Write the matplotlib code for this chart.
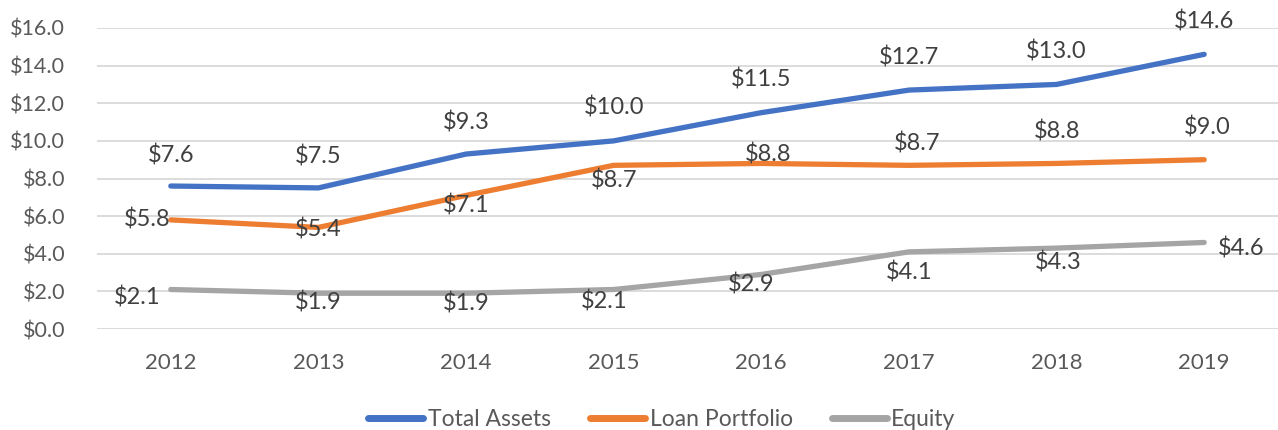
import matplotlib.pyplot as plt
import numpy as np

plt.rcParams['font.family'] = ['Lato', 'DejaVu Sans']

years = ['2012', '2013', '2014', '2015', '2016', '2017', '2018', '2019']
total_assets = [7.6, 7.5, 9.3, 10.0, 11.5, 12.7, 13.0, 14.6]
loan_portfolio = [5.8, 5.4, 7.1, 8.7, 8.8, 8.7, 8.8, 9.0]
equity = [2.1, 1.9, 1.9, 2.1, 2.9, 4.1, 4.3, 4.6]

# label offsets in pixels (dx, dy) and horizontal alignment, per point
ta_off = [(0, 31), (0, 31), (0, 32), (0, 33), (0, 33), (0, 33), (0, 33), (0, 33)]
lp_off = [(0, 0), (0, -2), (0, -10), (0, -15), (7, 9), (8, 22), (1, 32), (3, 32)]
lp_ha = ['right', 'center', 'center', 'center', 'center', 'center', 'center', 'center']
eq_off = [(-10, -8), (0, -9), (0, -10), (-10, -12), (-10, -10), (0, -21), (2, -14), (14, -6)]
eq_ha = ['right', 'center', 'center', 'center', 'center', 'center', 'center', 'left']

blue = '#4472C4'
orange = '#ED7D31'
gray = '#A5A5A5'
txt = '#404040'

fig = plt.figure(figsize=(12.78, 4.30), dpi=100)
ax = fig.add_axes([97 / 1278, 1 - 329 / 430, 1 - 97 / 1278, 301 / 430])

x = np.arange(len(years))
series = [
    ('Total Assets', total_assets, blue, ta_off, ['center'] * 8),
    ('Loan Portfolio', loan_portfolio, orange, lp_off, lp_ha),
    ('Equity', equity, gray, eq_off, eq_ha),
]
px = 72 / 100
for name, vals, col, offs, has in series:
    ax.plot(x, vals, color=col, lw=3.8, label=name, solid_capstyle='round',
            solid_joinstyle='round', zorder=3)
    for xi, v, (dx, dy), ha in zip(x, vals, offs, has):
        ax.annotate(f'${v:.1f}', (xi, v), xytext=(dx * px, dy * px),
                    textcoords='offset points', ha=ha, va='center',
                    fontsize=17, color=txt, zorder=4)

ax.set_xlim(-0.5, len(years) - 0.5)
ax.set_ylim(0, 16)
ax.set_yticks(np.arange(0, 17, 2))
ax.set_yticklabels([f'${v:.1f}' for v in np.arange(0, 17, 2)])
ax.set_xticks(x)
ax.set_xticklabels(years)
ax.grid(axis='y', color='#D9D9D9', lw=1.3)
ax.set_axisbelow(True)
for s in ax.spines.values():
    s.set_visible(False)
ax.tick_params(axis='y', length=0, pad=23, labelsize=15.5, labelcolor='#595959')
ax.tick_params(axis='x', length=0, pad=17, labelsize=16, labelcolor='#595959')

leg = fig.legend(loc='lower center', bbox_to_anchor=(0.518, -0.048), ncol=3, frameon=False,
                 fontsize=16.5, handlelength=2.4, handletextpad=0.2, columnspacing=1.7,
                 labelcolor='#595959')
for h in leg.get_lines():
    h.set_linewidth(5)

fig.savefig('out.png', dpi=100)
